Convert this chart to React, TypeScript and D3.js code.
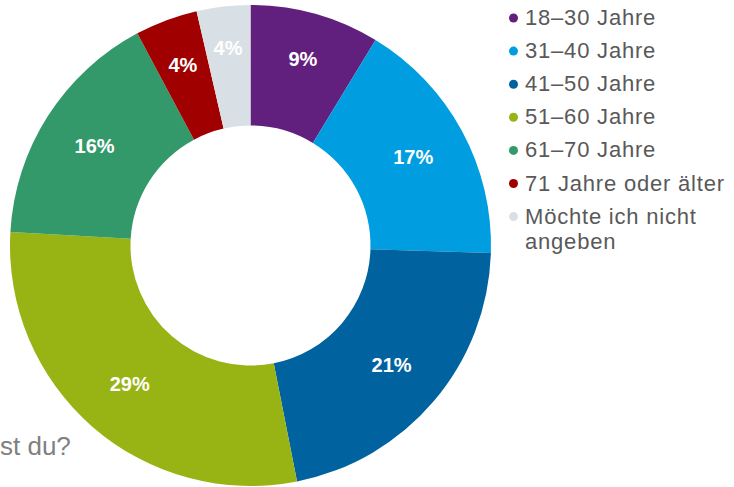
import React from "react";
import * as d3 from "d3";

const categories = [
  "18–30 Jahre",
  "31–40 Jahre",
  "41–50 Jahre",
  "51–60 Jahre",
  "61–70 Jahre",
  "71 Jahre oder älter",
  "Möchte ich nicht angeben",
];
const shares = [8.7, 16.8, 21.4, 29.0, 16.3, 4.2, 3.6];
const labels = ["9%", "17%", "21%", "29%", "16%", "4%", "4%"];
const colors = ["#62207e", "#009ee0", "#00639f", "#97b414", "#34996a", "#a00000", "#d9e0e5"];
const legendLines = [
  ["18–30 Jahre"],
  ["31–40 Jahre"],
  ["41–50 Jahre"],
  ["51–60 Jahre"],
  ["61–70 Jahre"],
  ["71 Jahre oder älter"],
  ["Möchte ich nicht", "angeben"],
];
// radial distance of each slice label from the centre (narrow slices push labels outward)
const labelRadii = [194, 185, 185, 184, 185, 193, 199];

const W = 734;
const H = 487;
const cx = 250.5;
const cy = 245.5;
const outerR = 240.5;
const innerR = 120;

export default function App() {
  const data = categories.map((c, i) => ({ c, v: shares[i], i }));
  const pie = d3.pie<any>().value((d: any) => d.v).sort(null);
  const arcs = pie(data);
  const arcGen = d3.arc<any>().innerRadius(innerR).outerRadius(outerR);

  const rowY = d3.scaleLinear().domain([0, 1]).range([25, 58.1]);

  return (
    <svg
      width={W}
      height={H}
      style={{ position: "fixed", left: 0, top: 0, display: "block", background: "#fff" }}
      fontFamily="'Liberation Sans', Arial, sans-serif"
    >
      <text x={0} y={455} fontSize={26} fill="#808080">st du?</text>
      <g transform={`translate(${cx},${cy})`}>
        {arcs.map((a, i) => (
          <path key={i} d={arcGen(a) as string} fill={colors[i]} />
        ))}
        {arcs.map((a, i) => {
          const r = labelRadii[i];
          const [x, y] = d3.arc<any>().innerRadius(r).outerRadius(r).centroid(a);
          return (
            <text
              key={"l" + i}
              x={x}
              y={y}
              dy="0.35em"
              textAnchor="middle"
              fontSize={20}
              fontWeight="bold"
              fill="#ffffff"
            >
              {labels[i]}
            </text>
          );
        })}
      </g>
      <g>
        {legendLines.map((lines, i) => {
          const y = rowY(i);
          return (
            <g key={"lg" + i}>
              <circle cx={513.5} cy={y - 7} r={4.5} fill={colors[i]} />
              {lines.map((t, j) => (
                <text
                  key={j}
                  x={525}
                  y={y + j * 25.5}
                  fontSize={22}
                  letterSpacing={0.8}
                  fill="#595959"
                >
                  {t}
                </text>
              ))}
            </g>
          );
        })}
      </g>
    </svg>
  );
}
